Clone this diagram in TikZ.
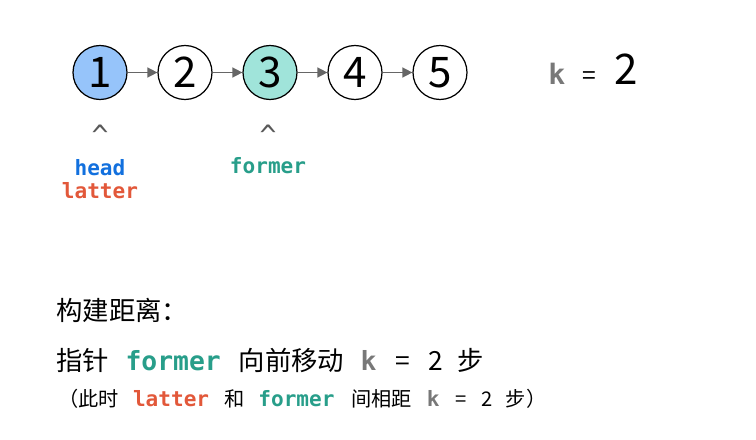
\documentclass[tikz,border=0pt]{standalone}
\usepackage{fontspec}
\setmainfont{Noto Sans CJK SC}
\newfontfamily\codefont{DejaVu Sans Mono}
\usetikzlibrary{arrows.meta}

\definecolor{headblue}{RGB}{18,112,222}
\definecolor{latterred}{RGB}{226,88,58}
\definecolor{formerteal}{RGB}{40,158,138}
\definecolor{kgray}{RGB}{120,120,120}
\definecolor{fillblue}{RGB}{150,196,250}
\definecolor{fillteal}{RGB}{160,228,218}
\newcommand{\code}[2]{{\codefont\bfseries\color{#1}#2}}

\begin{document}
\begin{tikzpicture}[x=0.02cm, y=-0.02cm, >={Triangle[length=2mm, width=2mm]},
	listnode/.style={circle, draw, line width=0.7pt, minimum size=1.08cm, inner sep=0pt, font=\fontsize{24}{28}\selectfont},
	link/.style={->, draw=black!60, fill=black!60, line width=0.85pt},
	ptr/.style={anchor=base, inner sep=0pt, font=\codefont\bfseries\fontsize{12}{14}\selectfont}]
	\useasboundingbox (0,0) rectangle (756,439);
	% the list
	\node[listnode, fill=fillblue] (n1) at (100,72.5) {1};
	\node[listnode] (n2) at (185,72.5) {2};
	\node[listnode, fill=fillteal] (n3) at (270,72.5) {3};
	\node[listnode] (n4) at (355,72.5) {4};
	\node[listnode] (n5) at (440,72.5) {5};
	\foreach \a/\b in {n1/n2, n2/n3, n3/n4, n4/n5} {\draw[link] (\a) -- (\b);}
	\node[anchor=base west, inner sep=0pt] (kval) at (548,85) {\fontsize{16}{18}\selectfont\code{kgray}{k}\hspace{10pt}{\fontsize{14}{16}\selectfont=}\hspace{10pt}{\fontsize{24}{28}\selectfont 2}};
	% pointers
	\node[ptr, text=black!65, font=\codefont\fontsize{16}{18}\selectfont] (up1) at (100,145) {\textasciicircum};
	\node[ptr, text=black!65, font=\codefont\fontsize{16}{18}\selectfont] (up3) at (268,145) {\textasciicircum};
	\node[ptr, text=headblue] (head) at (100,175) {head};
	\node[ptr, text=latterred] (latter) at (100,198) {latter};
	\node[ptr, text=formerteal] (former) at (268,173) {former};
	% explanation
	\node[anchor=base west, inner sep=0pt] (title) at (56,320) {\fontsize{15}{18}\selectfont 构建距离：};
	\node[anchor=base west, inner sep=0pt] (step) at (56,370) {\fontsize{15}{18}\selectfont 指针\hspace{9.4pt}\code{formerteal}{former}\hspace{10.2pt}向前移动\hspace{9.4pt}\code{kgray}{k}\hspace{11pt}=\hspace{10pt}2\hspace{8.5pt}步};
	\node[anchor=base west, inner sep=0pt] (note) at (58,406.5) {\fontsize{11.5}{14}\selectfont （此时\hspace{8pt}{\fontsize{12}{14}\selectfont\code{latterred}{latter}}\hspace{8.8pt}和\hspace{7.7pt}{\fontsize{12}{14}\selectfont\code{formerteal}{former}}\hspace{9.6pt}间相距\hspace{8.5pt}{\fontsize{12}{14}\selectfont\code{kgray}{k}}\hspace{9pt}=\hspace{8.5pt}2\hspace{7.5pt}步）};
\end{tikzpicture}
\end{document}
